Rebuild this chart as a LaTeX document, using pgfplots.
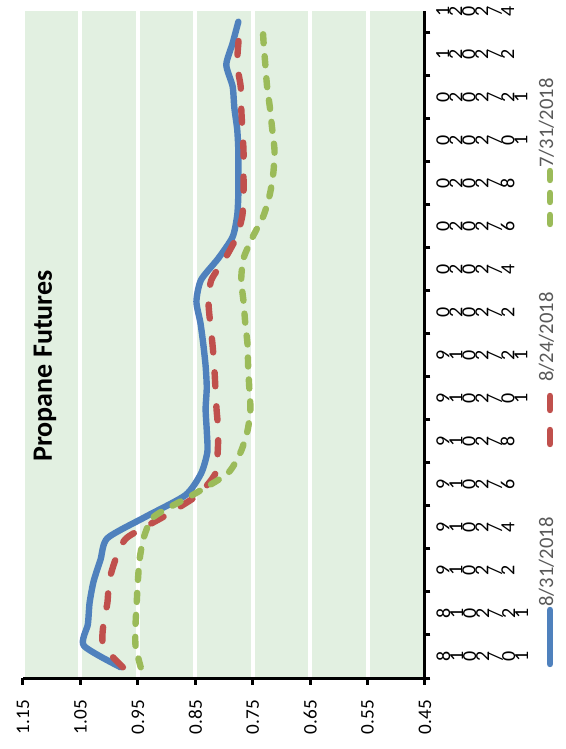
\documentclass[border=0pt]{standalone}
\usepackage{pgfplots}
\pgfplotsset{compat=1.18}
\usepackage{pgfplotstable}
\usepackage{fontspec}
\setmainfont{Carlito}
\definecolor{bgg}{RGB}{226,240,225}
\definecolor{sblue}{RGB}{79,129,189}
\definecolor{sred}{RGB}{192,80,77}
\definecolor{sgreen}{RGB}{155,187,89}
\definecolor{lgray}{RGB}{89,89,89}
\newcommand{\stk}[1]{\vbox{\baselineskip=9.75pt\lineskiplimit=-100pt\lineskip=0pt\halign{\hfil##\hfil\cr#1\crcr}}}
\pgfplotstableread{
y blue red green
0.5 0.980 0.976 0.945
1.5 1.044 1.010 0.954
2.5 1.037 1.010 0.954
3.5 1.034 1.003 0.952
4.5 1.027 1.000 0.950
5.5 1.015 0.989 0.947
6.5 1.003 0.970 0.940
7.5 0.936 0.905 0.922
8.5 0.867 0.846 0.855
9.5 0.840 0.815 0.794
10.5 0.829 0.811 0.771
11.5 0.830 0.810 0.759
12.5 0.832 0.813 0.754
13.5 0.830 0.815 0.756
14.5 0.832 0.817 0.758
15.5 0.836 0.820 0.759
16.5 0.841 0.824 0.763
17.5 0.848 0.827 0.766
18.5 0.840 0.822 0.770
19.5 0.810 0.798 0.766
20.5 0.785 0.778 0.750
21.5 0.777 0.768 0.731
22.5 0.775 0.766 0.720
23.5 0.775 0.766 0.714
24.5 0.775 0.766 0.712
25.5 0.777 0.768 0.716
26.5 0.782 0.770 0.720
27.5 0.785 0.771 0.725
28.5 0.796 0.777 0.728
29.5 0.785 0.775 0.731
30.5 0.775 0.771 0.733
}\futures
\begin{document}
\begin{tikzpicture}
\begin{axis}[
  at={(0,0)}, anchor=south west,
  scale only axis, width=301.5pt, height=500.25pt,
  xmin=0.45, xmax=1.15, x dir=reverse,
  ymin=0, ymax=31,
  axis x line*=bottom, axis y line*=right,
  axis line style={line width=2.25pt, black},
  axis background/.style={fill=bgg},
  xtick={0.45,0.55,0.65,0.75,0.85,0.95,1.05,1.15},
  xmajorgrids, major grid style={white, line width=3pt},
  /pgf/number format/assume math mode=true,
  xticklabel={\pgfmathprintnumber[fixed,fixed zerofill,precision=2]{\tick}},
  xticklabel style={rotate=90, anchor=east, font=\fontsize{14.4}{17}\selectfont},
  xticklabel shift=8pt,
  tick align=outside,
  major tick length=5pt,
  minor tick length=4pt,
  tick style={line width=2.25pt, black},
  every major y tick/.style={draw=none},
  ytick={1,3,...,31},
  minor ytick={0,2,...,30},
  yticklabels={
    {\stk{8\cr1\cr0\cr2\cr/\cr0\cr1}},
    {\stk{8\cr1\cr0\cr2\cr/\cr2\cr1}},
    {\stk{9\cr1\cr0\cr2\cr/\cr2}},
    {\stk{9\cr1\cr0\cr2\cr/\cr4}},
    {\stk{9\cr1\cr0\cr2\cr/\cr6}},
    {\stk{9\cr1\cr0\cr2\cr/\cr8}},
    {\stk{9\cr1\cr0\cr2\cr/\cr0\cr1}},
    {\stk{9\cr1\cr0\cr2\cr/\cr2\cr1}},
    {\stk{0\cr2\cr0\cr2\cr/\cr2}},
    {\stk{0\cr2\cr0\cr2\cr/\cr4}},
    {\stk{0\cr2\cr0\cr2\cr/\cr6}},
    {\stk{0\cr2\cr0\cr2\cr/\cr8}},
    {\stk{0\cr2\cr0\cr2\cr/\cr0\cr1}},
    {\stk{0\cr2\cr0\cr2\cr/\cr2\cr1}},
    {\stk{1\cr2\cr0\cr2\cr/\cr2}},
    {\stk{1\cr2\cr0\cr2\cr/\cr4}}},
  yticklabel style={rotate=90, anchor=north, font=\fontsize{15}{18}\selectfont},
  clip=false,
]
\addplot[sblue, line width=4.8pt, line cap=round, line join=round, smooth, tension=0.4] table[x=blue, y=y] {\futures};
\addplot[sred, line width=4.8pt, line cap=round, line join=round, dash pattern=on 10.5pt off 15pt, smooth, tension=0.4] table[x=red, y=y] {\futures};
\addplot[sgreen, line width=4.8pt, line cap=round, line join=round, dash pattern=on 6.75pt off 9.75pt, smooth, tension=0.4] table[x=green, y=y] {\futures};
\end{axis}
% title
\node[rotate=90, anchor=base, font=\fontsize{21}{25}\selectfont\bfseries] at (21.75pt,234pt) {Propane Futures};
% legend
\draw[sblue, line width=4.8pt, line cap=round] (395.25pt,10.5pt) -- (395.25pt,51pt);
\node[rotate=90, anchor=base west, text=lgray, font=\fontsize{15.5}{18}\selectfont, inner sep=0pt] at (397.5pt,53.25pt) {8/31/2018};
\draw[sred, line width=4.8pt, line cap=round, dash pattern=on 10.5pt off 15pt] (395.25pt,175.5pt) -- (395.25pt,211.5pt);
\node[rotate=90, anchor=base west, text=lgray, font=\fontsize{15.5}{18}\selectfont, inner sep=0pt] at (397.5pt,222pt) {8/24/2018};
\draw[sgreen, line width=4.8pt, line cap=round, dash pattern=on 6.75pt off 9.75pt] (395.25pt,340.5pt) -- (395.25pt,380.25pt);
\node[rotate=90, anchor=base west, text=lgray, font=\fontsize{15.5}{18}\selectfont, inner sep=0pt] at (397.5pt,382.5pt) {7/31/2018};
\path (-17.25pt,-53.25pt) rectangle (407.25pt,508.5pt);
\end{tikzpicture}
\end{document}
